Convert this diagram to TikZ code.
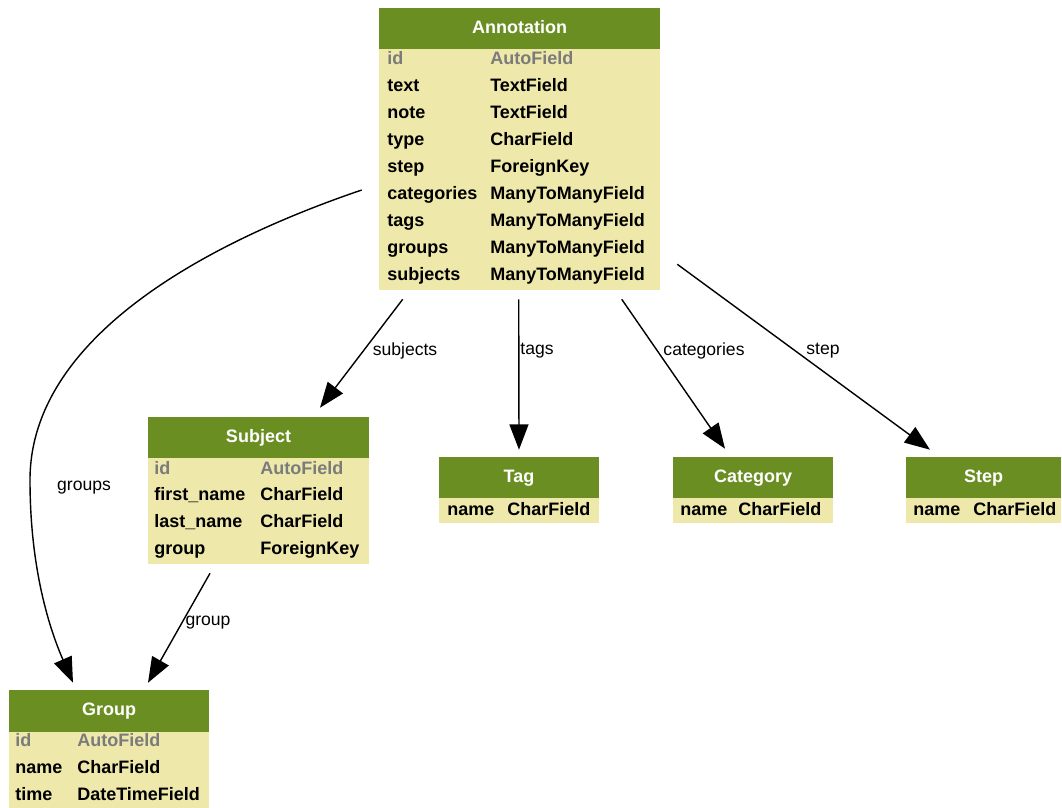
\documentclass[tikz,border=0pt]{standalone}
\usepackage{fontspec}
\setmainfont{Liberation Sans}
\usepackage{xcolor}
\usetikzlibrary{arrows.meta,fit,calc}
\definecolor{hdgreen}{RGB}{107,142,35}
\definecolor{rowyellow}{RGB}{238,232,170}
\definecolor{idgray}{RGB}{123,123,123}

\begin{document}
\begin{tikzpicture}[x=0.025cm,y=-0.025cm,
  tblbody/.style={fill=rowyellow,inner sep=0pt},
  tblhead/.style={fill=hdgreen,inner sep=0pt},
  title/.style={inner sep=0pt,text=white,text height=9.5pt,text depth=2.5pt,
    font=\fontsize{12.8}{14}\selectfont\bfseries},
  fld/.style={anchor=base west,inner sep=0pt,font=\fontsize{12.8}{14}\selectfont\bfseries},
  idfld/.style={fld,text=idgray},
  rel/.style={-{Triangle[length=18pt,width=13.5pt]},line width=1pt},
  lbl/.style={inner sep=0pt,font=\fontsize{12.5}{14}\selectfont}]
\useasboundingbox (0,0) rectangle (1062,807);

% tables
\node[tblbody,fit={(379,8) (660,290)}] (annotation-b) {};
\node[tblhead,fit={(379,8) (660,49)}] (annotation) {};
\node[title] at (annotation.center) {Annotation};
\node[idfld] at (387,65) {id};
\node[idfld] at (490,65) {AutoField};
\foreach \f/\t [count=\i] in {text/TextField,note/TextField,type/CharField,step/ForeignKey,
  categories/ManyToManyField,tags/ManyToManyField,groups/ManyToManyField,subjects/ManyToManyField}{
  \node[fld] at (387,65+26.9*\i) {\f};
  \node[fld] at (490,65+26.9*\i) {\t};
}

\node[tblbody,fit={(148,417) (369,564)}] (subject-b) {};
\node[tblhead,fit={(148,417) (369,458)}] (subject) {};
\node[title] at (subject.center) {Subject};
\node[idfld] at (154,474) {id};
\node[idfld] at (260,474) {AutoField};
\foreach \f/\t [count=\i] in {first\_name/CharField,last\_name/CharField,group/ForeignKey}{
  \node[fld] at (154,474+26.9*\i) {\f};
  \node[fld] at (260,474+26.9*\i) {\t};
}

\node[tblbody,fit={(439,457) (599,523)}] (tag-b) {};
\node[tblhead,fit={(439,457) (599,498)}] (tag) {};
\node[title] at (tag.center) {Tag};
\node[fld] at (447,515) {name};
\node[fld] at (507,515) {CharField};

\node[tblbody,fit={(673,457) (833,523)}] (category-b) {};
\node[tblhead,fit={(673,457) (833,498)}] (category) {};
\node[title] at (category.center) {Category};
\node[fld] at (680,515) {name};
\node[fld] at (738,515) {CharField};

\node[tblbody,fit={(906,457) (1061,523)}] (step-b) {};
\node[tblhead,fit={(906,457) (1061,498)}] (step) {};
\node[title] at (step.center) {Step};
\node[fld] at (913,515) {name};
\node[fld] at (973,515) {CharField};

\node[tblbody,fit={(9,690) (209,812)}] (group-b) {};
\node[tblhead,fit={(9,690) (209,732)}] (group) {};
\node[title] at (group.center) {Group};
\node[idfld] at (15,746) {id};
\node[idfld] at (77,746) {AutoField};
\node[fld] at (15,773) {name};
\node[fld] at (77,773) {CharField};
\node[fld] at (15,800) {time};
\node[fld] at (77,800) {DateTimeField};

% relations
\draw[rel] ($(annotation-b.south west)+(24,9)$) -- ($(subject-b.north)+(61.5,-9)$);
\draw[rel] ($(annotation-b.south west)+(140,9)$) -- ($(tag-b.north)+(0,-7)$);
\draw[rel] ($(annotation-b.south west)+(243,9)$) -- ($(category-b.north)+(-28,-8)$);
\draw[rel] ($(annotation-b.south east)+(17,-26)$) -- ($(step-b.north)+(-53.5,-7)$);
\draw[rel] ($(annotation-b.west)+(-17,41)$) .. controls (200,245) and (30,340) .. (30,480)
  .. controls (30,570) and (50,630) .. ($(group-b.north)+(-36,-7)$);
\draw[rel] ($(subject-b.south)+(-48.5,9)$) -- ($(group-b.north)+(39,-7)$);

\node[lbl] (subjects-lbl) at (405,351) {subjects};
\node[lbl] (tags-lbl) at (537,351) {tags};
\node[lbl] (categories-lbl) at (704,351) {categories};
\node[lbl] (step-lbl) at (823,351) {step};
\node[lbl] (groups-lbl) at (84,488) {groups};
\node[lbl] (group-lbl) at (208,623) {group};
\end{tikzpicture}
\end{document}
